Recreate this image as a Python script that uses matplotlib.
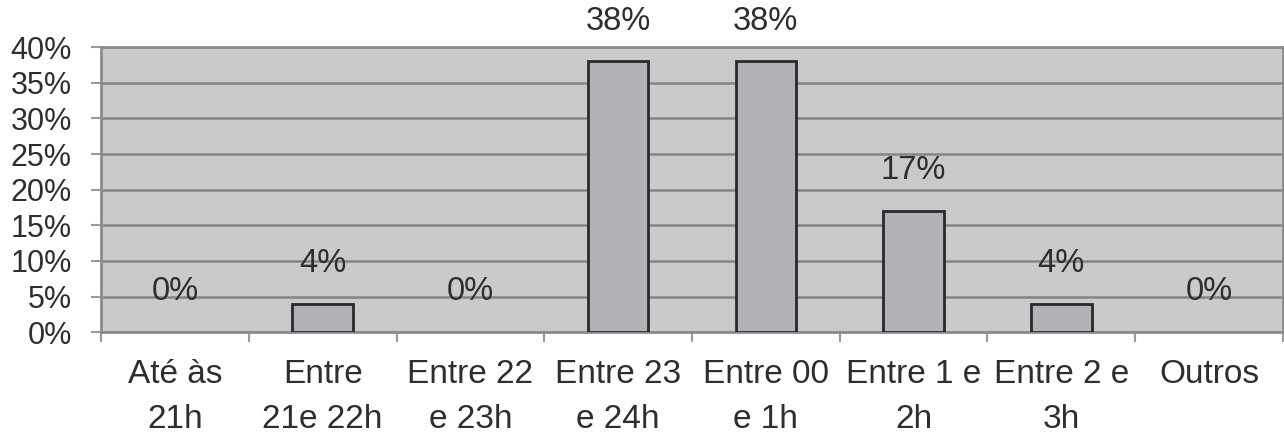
import matplotlib
matplotlib.use("Agg")
import matplotlib.pyplot as plt
from matplotlib.ticker import FixedLocator

categories = ["Até às\n21h", "Entre\n21e 22h", "Entre 22\ne 23h", "Entre 23\ne 24h",
              "Entre 00\ne 1h", "Entre 1 e\n2h", "Entre 2 e\n3h", "Outros"]
values = [0, 4, 0, 38, 38, 17, 4, 0]
value_labels = ["0%", "4%", "0%", "38%", "38%", "17%", "4%", "0%"]
y_ticks = [0, 5, 10, 15, 20, 25, 30, 35, 40]
y_tick_labels = [f"{t}%" for t in y_ticks]

plt.rcParams["font.family"] = ["Liberation Sans", "DejaVu Sans"]
text_color = "#2e2e2e"
grid_color = "#858585"

fig = plt.figure(figsize=(12.84, 4.37), dpi=100)
ax = fig.add_axes([0.0787, 0.240, 0.9205, 0.652])
ax.set_facecolor("#c9cacc")

x = list(range(len(categories)))
bars = ax.bar(x, values, width=0.41, color="#b1b2b5", edgecolor="#2a2a2a", linewidth=2, zorder=3)
# empty categories get no visible outline
for b, v in zip(bars, values):
    if v == 0:
        b.set_linewidth(0)

for xi, v, lab in zip(x, values, value_labels):
    ax.annotate(lab, (xi, v), xytext=(0, 29), textcoords="offset points",
                ha="center", va="center", fontsize=23.5, color=text_color,
                annotation_clip=False, zorder=4)

ax.set_xlim(-0.5, len(categories) - 0.5)
ax.set_ylim(0, 40)
ax.set_yticks(y_ticks)
ax.set_yticklabels(y_tick_labels, fontsize=22, color=text_color)
ax.yaxis.grid(True, color=grid_color, linewidth=1.8, zorder=1)
ax.set_axisbelow(True)

ax.set_xticks(x)
ax.set_xticklabels(categories, fontsize=24, color=text_color, linespacing=1.62)
ax.tick_params(axis="x", which="major", length=0, pad=19)
ax.xaxis.set_minor_locator(FixedLocator([i - 0.5 for i in range(len(categories) + 1)]))
ax.tick_params(axis="x", which="minor", length=7, width=1.5, color="#9a9a9a")
ax.tick_params(axis="y", length=7, width=1.5, color="#9a9a9a", pad=14)

for s in ax.spines.values():
    s.set_color("#8c8c8c")
    s.set_linewidth(2)

fig.savefig("out.png", dpi=100, facecolor="white")
